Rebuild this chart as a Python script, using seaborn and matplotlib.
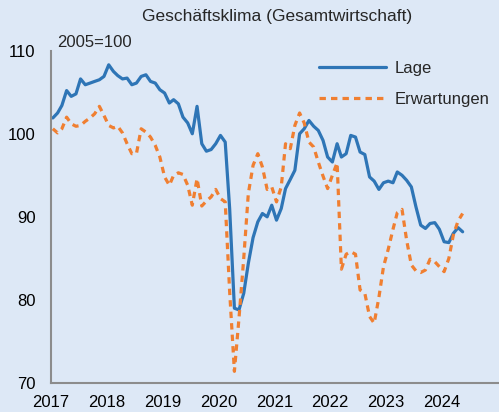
import pandas as pd
import numpy as np
import matplotlib
matplotlib.use("Agg")
import matplotlib.pyplot as plt
import seaborn as sns

# ifo business climate, monthly, Jan 2017 - May 2024
lage = [
    101.9, 102.5, 103.4, 105.2, 104.5, 104.8, 106.6, 105.9, 106.1, 106.3, 106.5, 106.9,  # 2017
    108.3, 107.5, 107.0, 106.6, 106.7, 105.9, 106.1, 106.9, 107.1, 106.3, 106.1, 105.3,  # 2018
    104.9, 103.7, 104.1, 103.6, 102.0, 101.3, 100.0, 103.3, 98.8, 97.9, 98.1, 98.8,      # 2019
    99.8, 99.0, 91.0, 79.0, 78.8, 80.8, 84.4, 87.5, 89.4, 90.4, 90.0, 91.4,              # 2020
    89.6, 91.0, 93.4, 94.5, 95.6, 100.0, 100.6, 101.6, 100.9, 100.4, 99.2, 97.2,         # 2021
    96.6, 98.8, 97.2, 97.6, 99.8, 99.6, 97.8, 97.5, 94.8, 94.3, 93.3, 94.1,              # 2022
    94.3, 94.1, 95.4, 95.0, 94.4, 93.6, 91.2, 89.0, 88.6, 89.2, 89.3, 88.5,              # 2023
    87.0, 86.9, 88.0, 88.7, 88.2,                                                        # 2024
]
erwartungen = [
    100.6, 100.1, 100.6, 102.0, 101.2, 100.9, 101.0, 101.5, 101.9, 102.4, 103.3, 102.2,  # 2017
    101.0, 100.7, 100.9, 100.1, 98.8, 97.6, 97.6, 100.6, 100.2, 99.6, 98.6, 97.2,        # 2018
    94.8, 93.8, 95.0, 95.3, 95.1, 93.8, 91.4, 94.6, 91.3, 91.9, 92.4, 93.3,              # 2019
    92.2, 91.8, 81.0, 71.4, 77.8, 85.0, 92.8, 96.2, 97.6, 96.0, 93.3, 93.6,              # 2020
    91.8, 93.6, 98.8, 98.2, 101.0, 102.5, 101.3, 99.0, 98.4, 96.6, 94.9, 93.4,           # 2021
    95.0, 96.5, 83.7, 85.5, 85.8, 85.5, 81.2, 80.8, 78.0, 77.2, 80.3, 84.0,              # 2022
    86.1, 88.5, 90.5, 90.9, 87.2, 84.2, 83.5, 83.3, 83.6, 84.9, 84.6, 84.0,              # 2023
    83.4, 85.0, 87.8, 89.5, 90.4,                                                        # 2024
]
years = list(range(2017, 2025))

dates = pd.date_range("2017-01-01", periods=len(lage), freq="MS") + pd.Timedelta(days=14)
df = pd.DataFrame({"Datum": dates, "Lage": lage, "Erwartungen": erwartungen})

bg = "#dde8f6"
blue = "#2e75b6"
orange = "#f07f31"
grey = "#8c8c8c"

sns.set_theme(style="white")
plt.rcParams["font.family"] = ["Liberation Sans", "DejaVu Sans"]

fig = plt.figure(figsize=(4.99, 4.12), dpi=100)
fig.patch.set_facecolor(bg)
ax = fig.add_axes([0.1016, 0.0704, 0.8964, 0.8066])
ax.set_facecolor(bg)

sns.lineplot(data=df, x="Datum", y="Lage", ax=ax, color=blue, lw=2.3, label="Lage")
sns.lineplot(data=df, x="Datum", y="Erwartungen", ax=ax, color=orange, lw=2.3,
             linestyle=(0, (2.0, 1.6)), label="Erwartungen")

ax.set_xlim(pd.Timestamp("2017-01-01"), pd.Timestamp("2025-01-01"))
ax.set_ylim(70, 110)
ax.set_yticks([70, 80, 90, 100, 110])
ax.set_xticks([pd.Timestamp(f"{y}-01-01") for y in years] + [pd.Timestamp("2025-01-01")])
ax.set_xticklabels([str(y) for y in years] + [""])
ax.set_xlabel("")
ax.set_ylabel("")

for side in ["top", "right"]:
    ax.spines[side].set_visible(False)
for side in ["left", "bottom"]:
    ax.spines[side].set_color(grey)
    ax.spines[side].set_linewidth(1.5)
ax.tick_params(axis="both", direction="out", length=4, width=1.5, color=grey,
               labelsize=12, labelcolor="black")
ax.tick_params(axis="x", pad=5)
ax.tick_params(axis="y", pad=7)

fig.text(0.555, 0.961, "Geschäftsklima (Gesamtwirtschaft)", ha="center", va="center",
         fontsize=12.5)
fig.text(0.115, 0.898, "2005=100", ha="left", va="center", fontsize=12)

ax.legend(loc="upper left", bbox_to_anchor=(0.585, 0.99), frameon=False, fontsize=12,
          handlelength=4.0, handletextpad=0.55, labelspacing=1.0, borderaxespad=0)

fig.savefig("out.png", dpi=100, facecolor=bg)
